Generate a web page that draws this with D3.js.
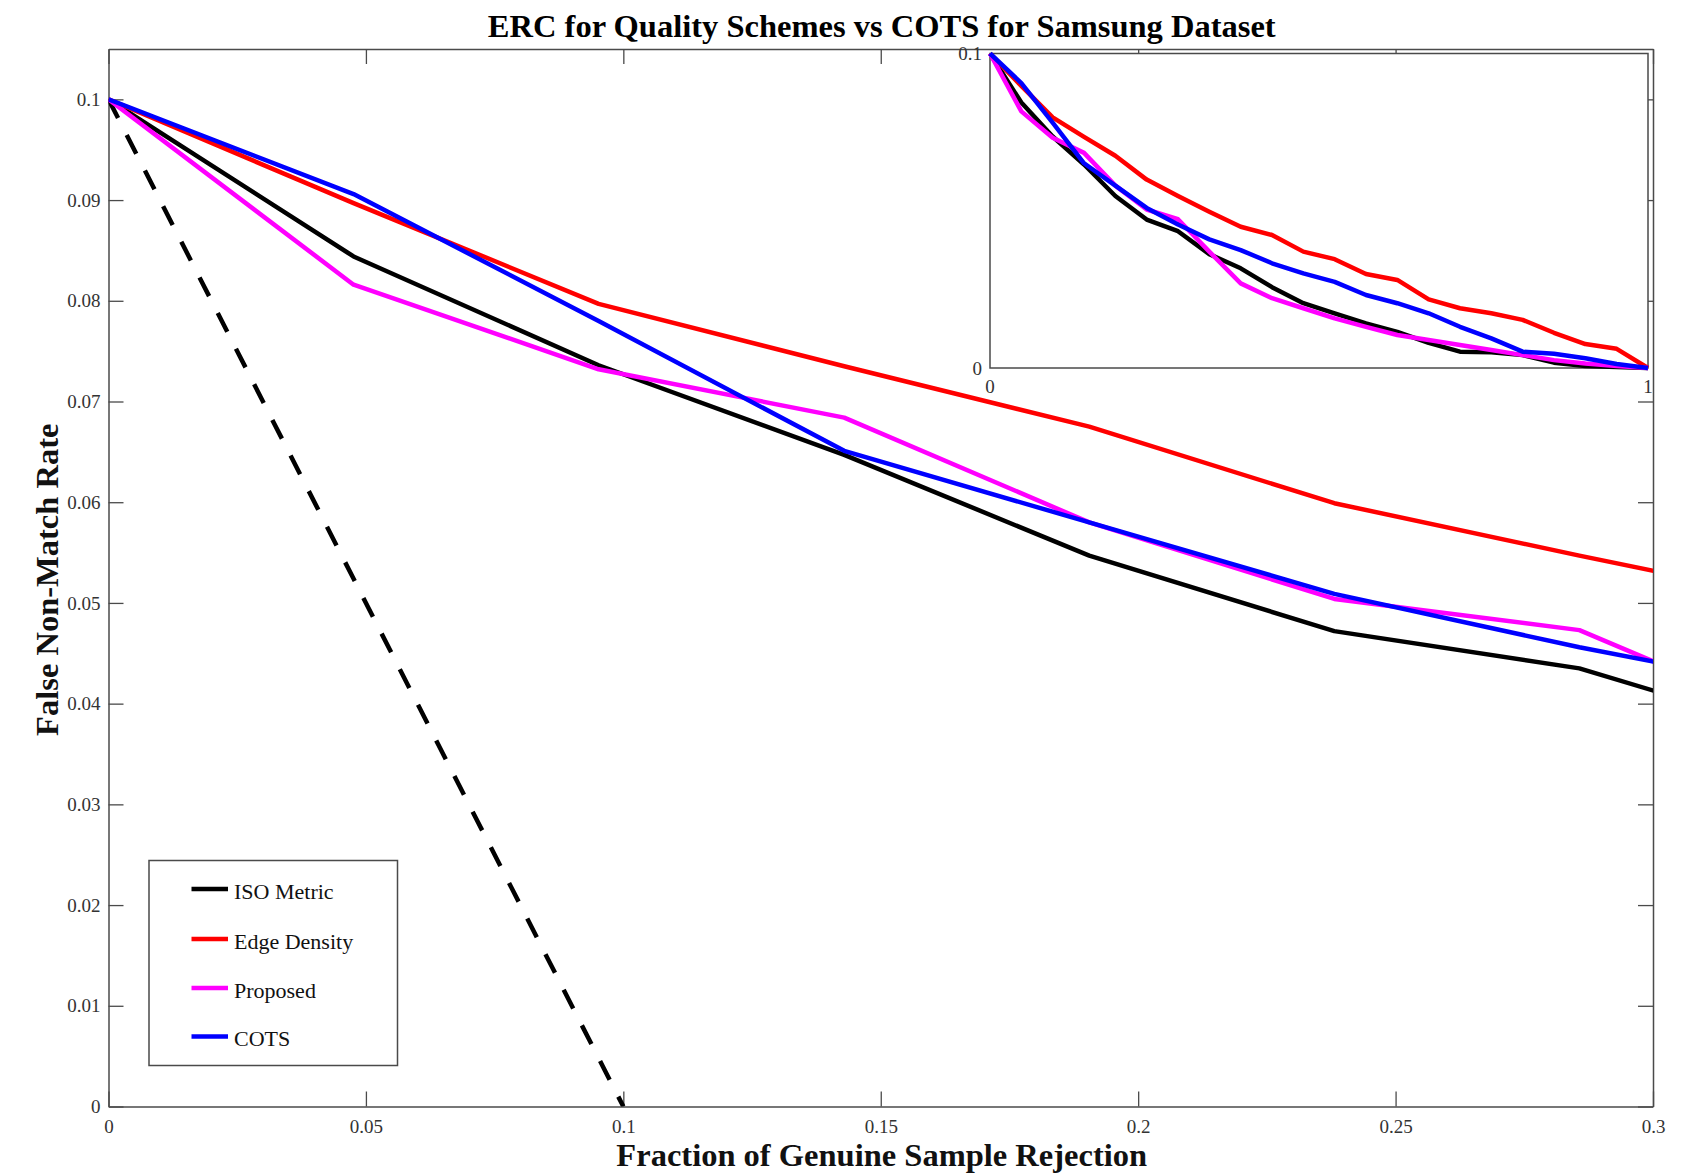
<!DOCTYPE html>
<html>
<head>
<meta charset="utf-8">
<script src="https://cdn.jsdelivr.net/npm/d3@7"></script>
<style>
  html, body { margin: 0; padding: 0; background: #fff; }
  svg { display: block; }
  text { font-family: "Liberation Serif", "Times New Roman", serif; }
</style>
</head>
<body>
<script>
// ---------- data ----------
const rejection = [0, 0.0476, 0.0952, 0.1429, 0.1905, 0.2381, 0.2857, 0.3333, 0.381, 0.4286, 0.4762,
                   0.5238, 0.5714, 0.619, 0.6667, 0.7143, 0.7619, 0.8095, 0.8571, 0.9048, 0.9524, 1];
const isoMetric   = [0.1, 0.0844, 0.0736, 0.0647, 0.0547, 0.0472, 0.0435, 0.0362, 0.0317, 0.0257, 0.0206,
                     0.0174, 0.0142, 0.0115, 0.0080, 0.0052, 0.0050, 0.0041, 0.0017, 0.0006, 0.0003, 0];
const edgeDensity = [0.1, 0.0897, 0.0797, 0.0735, 0.0675, 0.0599, 0.0547, 0.0497, 0.0449, 0.0423, 0.0370,
                     0.0346, 0.0299, 0.0280, 0.0218, 0.0190, 0.0174, 0.0153, 0.0112, 0.0076, 0.0061, 0];
const proposed    = [0.1, 0.0816, 0.0732, 0.0684, 0.0580, 0.0504, 0.0473, 0.0370, 0.0269, 0.0222, 0.0190,
                     0.0158, 0.0131, 0.0105, 0.0089, 0.0073, 0.0057, 0.0041, 0.0025, 0.0014, 0.0006, 0];
const cots        = [0.1, 0.0906, 0.0780, 0.0651, 0.0580, 0.0509, 0.0456, 0.0409, 0.0375, 0.0333, 0.0301,
                     0.0274, 0.0232, 0.0206, 0.0174, 0.0131, 0.0094, 0.0052, 0.0045, 0.0031, 0.0013, 0];
const idealX = [0, 0.1];
const idealY = [0.1, 0];

const seriesNames  = ["ISO Metric", "Edge Density", "Proposed", "COTS"];
const seriesValues = [isoMetric, edgeDensity, proposed, cots];
const seriesColors = ["#000000", "#ff0000", "#ff00ff", "#0000ff"];

const xTicks = [0, 0.05, 0.1, 0.15, 0.2, 0.25, 0.3];
const yTicks = [0, 0.01, 0.02, 0.03, 0.04, 0.05, 0.06, 0.07, 0.08, 0.09, 0.1];
const xTickLabels = ["0", "0.05", "0.1", "0.15", "0.2", "0.25", "0.3"];
const yTickLabels = ["0", "0.01", "0.02", "0.03", "0.04", "0.05", "0.06", "0.07", "0.08", "0.09", "0.1"];
const insetXTicks = [0, 1];
const insetYTicks = [0, 0.1];
const insetXTickLabels = ["0", "1"];
const insetYTickLabels = ["0", "0.1"];

const titleText = "ERC for Quality Schemes vs COTS for Samsung Dataset";
const xLabelText = "Fraction of Genuine Sample Rejection";
const yLabelText = "False Non-Match Rate";

// ---------- layout ----------
const W = 1701, H = 1174;
const M = { left: 108.5, right: 1653, top: 49, bottom: 1106.5 };
const IN = { left: 990, right: 1648, top: 53.5, bottom: 368 };
const axisColor = "#4a4a4a";
const tickTextColor = "#333";
const LW = 4.5;

const svg = d3.select("body").append("svg").attr("width", W).attr("height", H);

const x = d3.scaleLinear().domain([0, 0.3]).range([M.left, M.right]);
const y = d3.scaleLinear().domain([0, 0.105]).range([M.bottom, M.top]);

svg.append("defs").append("clipPath").attr("id", "mainClip")
  .append("rect").attr("x", M.left).attr("y", M.top)
  .attr("width", M.right - M.left).attr("height", M.bottom - M.top);

// ---------- main axes ----------
function styleAxis(g) {
  g.selectAll(".domain").attr("stroke", axisColor).attr("stroke-width", 1.5);
  g.selectAll(".tick line").attr("stroke", axisColor).attr("stroke-width", 1.3);
  g.selectAll(".tick text").attr("fill", tickTextColor)
    .style("font-family", '"Liberation Serif", serif').style("font-size", "19px");
}

const gx = svg.append("g").attr("transform", `translate(0,${M.bottom})`)
  .call(d3.axisBottom(x).tickValues(xTicks).tickFormat((d, i) => xTickLabels[i])
    .tickSizeInner(-15).tickSizeOuter(0).tickPadding(13));
styleAxis(gx);
gx.selectAll(".tick text").attr("dy", "0.71em");

const gxt = svg.append("g").attr("transform", `translate(0,${M.top})`)
  .call(d3.axisTop(x).tickValues(xTicks).tickFormat("").tickSizeInner(-15).tickSizeOuter(0));
styleAxis(gxt);

const gy = svg.append("g").attr("transform", `translate(${M.left},0)`)
  .call(d3.axisLeft(y).tickValues(yTicks).tickFormat((d, i) => yTickLabels[i])
    .tickSizeInner(-15).tickSizeOuter(0).tickPadding(8));
styleAxis(gy);

const gyr = svg.append("g").attr("transform", `translate(${M.right},0)`)
  .call(d3.axisRight(y).tickValues(yTicks).tickFormat("").tickSizeInner(-15).tickSizeOuter(0));
styleAxis(gyr);

// ---------- main lines ----------
const plot = svg.append("g").attr("clip-path", "url(#mainClip)");

const idealLine = d3.line().x(d => x(d[0])).y(d => y(d[1]));
plot.append("path")
  .datum(idealX.map((v, i) => [v, idealY[i]]))
  .attr("d", idealLine)
  .attr("fill", "none").attr("stroke", "#000").attr("stroke-width", LW)
  .attr("stroke-dasharray", "21,19");

const mainLine = d3.line().x((d, i) => x(rejection[i])).y(d => y(d));
seriesValues.forEach((vals, s) => {
  plot.append("path").datum(vals).attr("d", mainLine)
    .attr("fill", "none").attr("stroke", seriesColors[s]).attr("stroke-width", LW)
    .attr("stroke-linejoin", "round");
});

// ---------- inset ----------
const xi = d3.scaleLinear().domain([0, 1]).range([IN.left, IN.right]);
const yi = d3.scaleLinear().domain([0, 0.1]).range([IN.bottom, IN.top]);

svg.append("rect").attr("x", IN.left).attr("y", IN.top)
  .attr("width", IN.right - IN.left).attr("height", IN.bottom - IN.top)
  .attr("fill", "#fff").attr("stroke", axisColor).attr("stroke-width", 1.5);

const insetLine = d3.line().x((d, i) => xi(rejection[i])).y(d => yi(d));
seriesValues.forEach((vals, s) => {
  svg.append("path").datum(vals).attr("d", insetLine)
    .attr("fill", "none").attr("stroke", seriesColors[s]).attr("stroke-width", LW)
    .attr("stroke-linejoin", "round");
});

svg.append("g").selectAll("text").data(insetYTicks).join("text")
  .attr("x", IN.left - 8).attr("y", d => yi(d)).attr("dy", "0.35em")
  .attr("text-anchor", "end").attr("fill", tickTextColor).style("font-size", "19px")
  .text((d, i) => insetYTickLabels[i]);
svg.append("g").selectAll("text").data(insetXTicks).join("text")
  .attr("x", d => xi(d)).attr("y", IN.bottom + 25)
  .attr("text-anchor", "middle").attr("fill", tickTextColor).style("font-size", "19px")
  .text((d, i) => insetXTickLabels[i]);

// ---------- legend ----------
const LG = { x: 149, y: 860.5, w: 248.5, h: 205 };
svg.append("rect").attr("x", LG.x).attr("y", LG.y).attr("width", LG.w).attr("height", LG.h)
  .attr("fill", "#fff").attr("stroke", axisColor).attr("stroke-width", 1.5);
const legendRows = [889, 939, 988, 1036.5];
seriesNames.forEach((name, i) => {
  svg.append("line").attr("x1", 191.5).attr("x2", 228).attr("y1", legendRows[i]).attr("y2", legendRows[i])
    .attr("stroke", seriesColors[i]).attr("stroke-width", LW);
  svg.append("text").attr("x", 234).attr("y", legendRows[i] + 2).attr("dy", "0.35em")
    .attr("fill", "#111").style("font-size", "22px").text(name);
});

// ---------- titles ----------
const cx = (M.left + M.right) / 2;
svg.append("text").attr("x", cx + 1).attr("y", 37).attr("text-anchor", "middle")
  .style("font-size", "32.5px").style("font-weight", "bold").attr("fill", "#000").text(titleText);
svg.append("text").attr("x", cx + 1).attr("y", 1166).attr("text-anchor", "middle")
  .style("font-size", "32.5px").style("font-weight", "bold").attr("fill", "#111").text(xLabelText);
svg.append("text").attr("transform", `translate(58,${(M.top + M.bottom) / 2 + 2}) rotate(-90)`)
  .attr("text-anchor", "middle")
  .style("font-size", "32.5px").style("font-weight", "bold").attr("fill", "#111").text(yLabelText);
</script>
</body>
</html>
